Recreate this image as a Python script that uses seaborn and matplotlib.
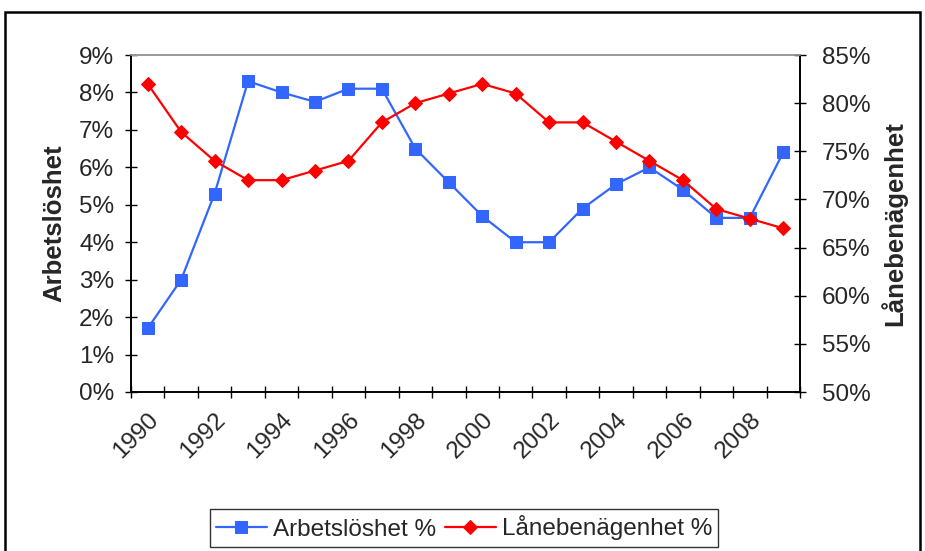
"""
Arbetslöshet vs Lånebenägenhet 1990-2009
Two-axis line chart in the old Excel style
"""

import numpy as np
import pandas as pd
import matplotlib
matplotlib.use("Agg")
import matplotlib.pyplot as plt
import seaborn as sns
from matplotlib.patches import Rectangle
from matplotlib.ticker import FixedLocator, FuncFormatter

# Data
years = list(range(1990, 2010))
arbetsloshet = [1.7, 3.0, 5.3, 8.3, 8.0, 7.75, 8.1, 8.1, 6.5, 5.6,
                4.7, 4.0, 4.0, 4.9, 5.55, 6.0, 5.4, 4.65, 4.65, 6.4]
lanebenagenhet = [82, 77, 74, 72, 72, 73, 74, 78, 80, 81,
                  82, 81, 78, 78, 76, 74, 72, 69, 68, 67]
label_years = list(range(1990, 2009, 2))

BLUE = "#3366FF"
RED = "#FF0000"
FS = 17.5

sns.set_style("white")
plt.rcParams["font.family"] = ["Liberation Sans", "DejaVu Sans"]

df = pd.DataFrame({"year": years, "arb": arbetsloshet, "lan": lanebenagenhet})

fig = plt.figure(figsize=(9.25, 5.51), dpi=100)
ax = fig.add_axes([131 / 925, 1 - 392 / 551, 669 / 925, 337 / 551])
ax2 = ax.twinx()

sns.lineplot(data=df, x="year", y="arb", ax=ax, color=BLUE, marker="s",
             markersize=8.5, markeredgecolor=BLUE, linewidth=1.6,
             label="Arbetslöshet %", legend=False)
sns.lineplot(data=df, x="year", y="lan", ax=ax2, color=RED, marker="D",
             markersize=7.5, markeredgecolor=RED, linewidth=1.6,
             label="Lånebenägenhet %", legend=False)

ax.set_xlim(1989.5, 2009.5)
ax.set_ylim(0, 9)
ax2.set_ylim(50, 85)

ax.set_yticks(np.arange(0, 10, 1))
ax.yaxis.set_major_formatter(FuncFormatter(lambda v, _: f"{v:.0f}%"))
ax2.set_yticks(np.arange(50, 90, 5))
ax2.yaxis.set_major_formatter(FuncFormatter(lambda v, _: f"{v:.0f}%"))

# labels at category centers, tick marks at category boundaries
ax.set_xticks(label_years)
ax.set_xticklabels([str(y) for y in label_years], rotation=45, ha="right",
                   rotation_mode="anchor", fontsize=FS)
ax.xaxis.set_minor_locator(FixedLocator(np.arange(1989.5, 2010, 1)))
ax.tick_params(axis="x", which="major", length=0, pad=12)
ax.tick_params(axis="x", which="minor", length=8, width=1, direction="inout",
               bottom=True, color="black")
ax.tick_params(axis="y", length=8, width=1, direction="inout", left=True,
               labelsize=FS, pad=8, color="black")
ax2.tick_params(axis="y", length=8, width=1, direction="inout", right=True,
                labelsize=FS, pad=12, color="black")

ax.set_xlabel("")
ax.set_ylabel("Arbetslöshet", fontsize=18.5, fontweight="bold", labelpad=9)
ax2.set_ylabel("Lånebenägenhet", fontsize=18.5, fontweight="bold", labelpad=7)

for a in (ax, ax2):
    for side in ("left", "right", "bottom"):
        a.spines[side].set_color("black")
        a.spines[side].set_linewidth(1.2)
    a.spines["top"].set_color("#999999")
    a.spines["top"].set_linewidth(1.2)
    a.grid(False)

# outer chart border
fig.patches.append(Rectangle((5 / 925, -0.02), 915 / 925, 1 - 12 / 551 + 0.02,
                             transform=fig.transFigure, fill=False,
                             edgecolor="black", linewidth=1.8))

h1, l1 = ax.get_legend_handles_labels()
h2, l2 = ax2.get_legend_handles_labels()
leg = fig.legend(h1 + h2, l1 + l2, loc="center", ncol=2,
                 bbox_to_anchor=(464 / 925, 1 - 528 / 551), fontsize=FS,
                 frameon=True, fancybox=False, borderpad=0.25,
                 handlelength=2.1, columnspacing=0.35, handletextpad=0.25,
                 borderaxespad=0.2)
leg.get_frame().set_edgecolor("black")
leg.get_frame().set_linewidth(1.0)

fig.savefig("out.png", dpi=100)
